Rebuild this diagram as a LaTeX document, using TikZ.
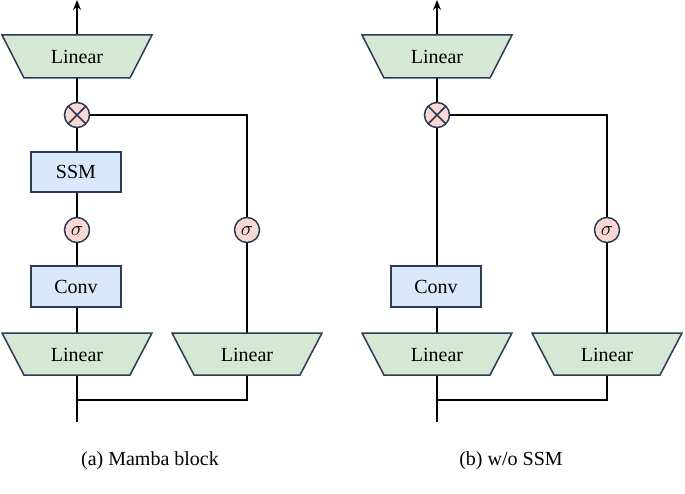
\documentclass[tikz,border=0pt]{standalone}
\usepackage{fontspec}
\setmainfont{Liberation Serif}
\usetikzlibrary{arrows.meta}
\definecolor{edge}{HTML}{2B3A55}
\definecolor{gfill}{HTML}{D5E8D4}
\definecolor{bfill}{HTML}{DAE8FC}
\definecolor{rfill}{HTML}{FAD9D5}
\begin{document}
\begin{tikzpicture}[x=1pt,y=-1pt,
  wire/.style={line width=1.8pt,black},
  boxs/.style={draw=edge,fill=bfill,line width=1.5pt},
  trap/.style={draw=edge,fill=gfill,line width=1.5pt},
  circ/.style={draw=edge,fill=rfill,line width=1.5pt},
  lbl/.style={font=\fontsize{20}{24}\selectfont}]
\useasboundingbox (0,0) rectangle (685,494);
\foreach \o/\ssm in {0/1,360/0}{
\begin{scope}[xshift=\o]
 \coordinate (top\o) at (77,0);
 \coordinate (bot\o) at (77,422);
 \coordinate (rb\o) at (247,400);
 \coordinate (rt\o) at (247,115);
 \draw[wire,-{Stealth[length=10pt,width=8pt]}] (bot\o) -- (top\o);
 \draw[wire] (77,115) -- (rt\o) -- (rb\o) -- (77,400);
 \draw[trap] (2,35) -- (152,35) -- (130,78) -- (24,78) -- cycle;
 \node[lbl] (lt\o) at (77,57) {Linear};
 \draw[trap] (2,333) -- (152,333) -- (130,375) -- (24,375) -- cycle;
 \node[lbl] (lb\o) at (77,355) {Linear};
 \draw[trap] (172,333) -- (322,333) -- (300,375) -- (194,375) -- cycle;
 \node[lbl] (lr\o) at (247,355) {Linear};
 \draw[circ] (77,115) circle (12.5);
 \draw[edge,line width=1.5pt] (77,115) ++(45:12.5) -- ++(225:25) (77,115) ++(135:12.5) -- ++(-45:25);
 \coordinate (m\o) at (77,115);
 \draw[boxs] (31,266) rectangle (121,307);
 \node[lbl] (cv\o) at (76,287) {Conv};
 \draw[circ] (247,230) circle (12.5);
 \node[lbl] (sr\o) at (247,231) {$\sigma$};
 \ifnum\ssm=1
  \draw[boxs] (31,152) rectangle (121,192);
  \node[lbl] (ssm) at (76,172) {SSM};
  \draw[circ] (77,230) circle (12.5);
  \node[lbl] (sl) at (77,231) {$\sigma$};
 \fi
\end{scope}}
\node[lbl] (capa) at (150,461) {(a) Mamba block};
\node[lbl] (capb) at (511,461) {(b) w/o SSM};
\end{tikzpicture}
\end{document}
